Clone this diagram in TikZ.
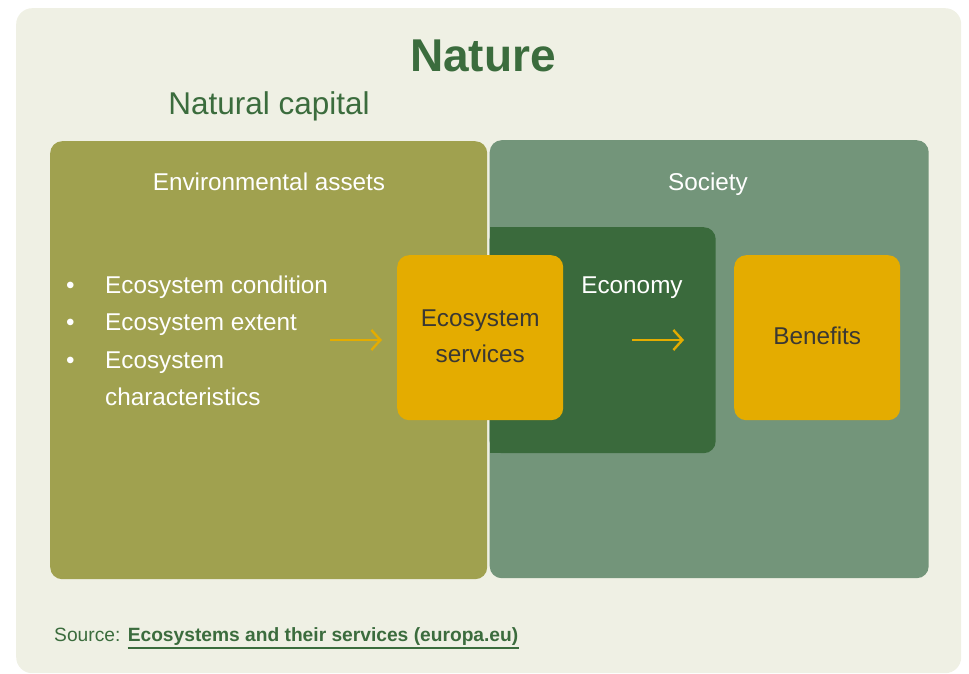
\documentclass[tikz,border=0pt]{standalone}
\usepackage{fontspec}
\setmainfont{Liberation Sans}
\usetikzlibrary{arrows.meta,positioning}
\definecolor{natbg}{HTML}{EFF0E4}
\definecolor{natgreen}{HTML}{3B6C3D}
\definecolor{natolive}{HTML}{A0A14F}
\definecolor{natsage}{HTML}{73957A}
\definecolor{natdark}{HTML}{3A6A3C}
\definecolor{natyellow}{HTML}{E4AC00}
\definecolor{natink}{HTML}{3A3833}

\begin{document}
\begin{tikzpicture}[x=1pt,y=-1pt,>={Straight Barb[length=9pt,width=20pt]},area/.style={rounded corners=12pt,inner sep=0pt,anchor=north west},yelbox/.style={area,fill=natyellow,minimum width=166pt,minimum height=165pt,text depth=4pt,align=center,text=natink,font=\fontsize{24.3}{36}\selectfont},hdr/.style={text=white,anchor=base,font=\fontsize{24.3}{30}\selectfont},flow/.style={->,natyellow,line width=2.4pt}]
\useasboundingbox (0,0) rectangle (969,674);
\node[area,rounded corners=16pt,fill=natbg,minimum width=945pt,minimum height=665pt] (panel) at (16,8) {};
\node[anchor=base,text=natgreen,font=\fontsize{46}{50}\selectfont\bfseries] (nature) at (483,72) {Nature};
\node[anchor=base,text=natgreen,font=\fontsize{31.5}{36}\selectfont] (capital) at (269,115) {Natural capital};
\node[area,fill=natolive,minimum width=437pt,minimum height=438pt] (assets) at (50,141) {};
\node[area,fill=natsage,minimum width=439pt,minimum height=438pt] (society) at (489.5,140) {};
\node[area,fill=natdark,minimum width=226pt,minimum height=226pt] (economy) at (489.5,227) {};
\fill[natdark] (economy.north west) rectangle ([xshift=12pt]economy.south west);
\node[hdr] (assetslbl) at (269,190) {Environmental assets};
\node[hdr] (societylbl) at (708,190) {Society};
\node[hdr] (economylbl) at (632,293) {Economy};
\node[anchor=base west,inner sep=0pt,text=white,font=\fontsize{24.3}{37.5}\selectfont] (conditions) at (66,293) {\begin{tabular}[t]{@{}p{39pt}@{}l@{}}
\textbullet & Ecosystem condition\\
\textbullet & Ecosystem extent\\
\textbullet & Ecosystem\\
 & characteristics
\end{tabular}};
\node[yelbox] (services) at (397,255) {Ecosystem\\services};
\node[yelbox] (benefits) at (734,255) {Benefits};
\coordinate (in1) at (330,340);
\coordinate (in2) at (382,340);
\coordinate (out1) at (632,340);
\coordinate (out2) at (684,340);
\draw[flow] (in1) -- (in2);
\draw[flow] (out1) -- (out2);
\node[anchor=base west,inner sep=0pt,text=natgreen,font=\fontsize{19.2}{22}\selectfont] (source) at (54,641) {Source:};
\node[inner sep=0pt,text=natgreen,font=\fontsize{19.2}{22}\selectfont\bfseries,right=7pt of source.base east,anchor=base west] (link) {Ecosystems and their services (europa.eu)};
\draw[natgreen,line width=1.3pt] ([yshift=-7pt]link.base west) -- ([yshift=-7pt]link.base east);
\end{tikzpicture}
\end{document}
